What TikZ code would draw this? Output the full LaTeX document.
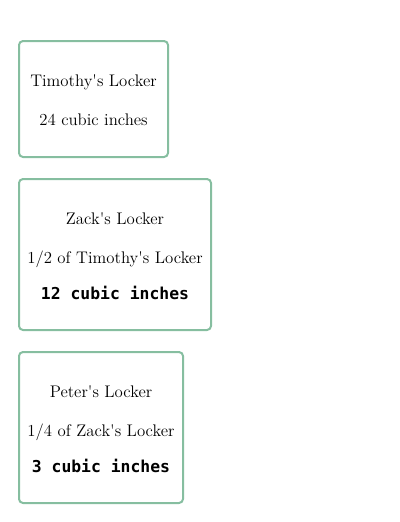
\documentclass[tikz,border=0pt]{standalone}
\usepackage{fontspec}
\newfontfamily\codefont{DejaVu Sans Mono}
\usepackage{tikz}

\definecolor{lockergreen}{RGB}{134,190,160}

\begin{document}
\begin{tikzpicture}[
      x = .75pt, y = -.75pt,
      lockerbox/.style = {
        draw = lockergreen, line width = 1.5pt, rounded corners = 3pt},
      every node/.style = {
        inner sep = 0pt, text height = 10pt, text depth = 1pt,
        font = \fontsize{12.6}{15}\selectfont},
      sizetext/.style = {font = \fontsize{12.3}{14}\selectfont\codefont\bfseries}
      ]
    \useasboundingbox (0,0) rectangle (400,522);

    % boxes
    \draw[lockerbox] (19,41) rectangle (168,157); % timothy
    \draw[lockerbox] (19,179) rectangle (211,330); % zack
    \draw[lockerbox] (19,352) rectangle (183,503); % peter

    \node (T1) at (93.5,80) {Timothy\textquotesingle s Locker};
    \node (T2) at (93.5,119) {24 cubic inches};

    \node (Z1) at (115,218) {Zack\textquotesingle s Locker};
    \node (Z2) at (115,257) {1/2 of Timothy\textquotesingle s Locker};
    \node[sizetext] (Z3) at (115,293) {12 cubic inches};

    \node (P1) at (101,391) {Peter\textquotesingle s Locker};
    \node (P2) at (101,430) {1/4 of Zack\textquotesingle s Locker};
    \node[sizetext] (P3) at (101,466) {3 cubic inches};
  \end{tikzpicture}
\end{document}
